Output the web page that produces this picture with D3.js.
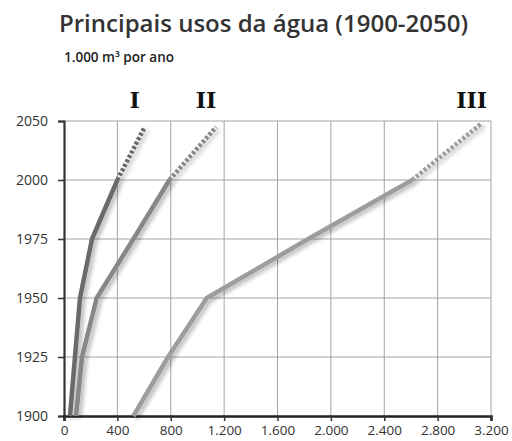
<!DOCTYPE html>
<html lang="pt">
<head>
<meta charset="UTF-8" />
<title>Principais usos da água (1900-2050)</title>
<script src="https://d3js.org/d3.v7.min.js"></script>
<style>
    body { margin: 0; background: #fff; }
    svg { display: block; font-family: "Open Sans", sans-serif; }
</style>
</head>
<body>
<div id="chart"></div>
<script>
    // values (1.000 m³ por ano)
    const years = [1900, 1925, 1950, 1975, 2000];
    const usoI = [45, 82, 120, 210, 400];
    const usoII = [90, 135, 245, 520, 790];
    const usoIII = [520, 780, 1070, 1830, 2610];
    // projections towards 2050 (dotted): [year, value] from 2000
    const projI = [[2000, 400], [2045, 605]];
    const projII = [[2000, 790], [2045, 1140]];
    const projIII = [[2000, 2610], [2048, 3130]];

    const seriesNames = ["I", "II", "III"];
    const xTicks = [0, 400, 800, 1200, 1600, 2000, 2400, 2800, 3200];
    const yTicks = [1900, 1925, 1950, 1975, 2000, 2050];

    const width = 512, height = 441;
    const margin = { left: 64, right: 21, top: 121, bottom: 25 };

    const svg = d3.select("#chart").append("svg")
        .attr("width", width)
        .attr("height", height);

    const defs = svg.append("defs");
    const f = defs.append("filter").attr("id", "shadow")
        .attr("x", "-20%").attr("y", "-20%").attr("width", "140%").attr("height", "140%");
    f.append("feGaussianBlur").attr("in", "SourceAlpha").attr("stdDeviation", 2.2).attr("result", "b");
    f.append("feOffset").attr("in", "b").attr("dx", 3).attr("dy", 2).attr("result", "o");
    f.append("feComponentTransfer").attr("in", "o").attr("result", "s")
        .append("feFuncA").attr("type", "linear").attr("slope", 0.3);
    const fm = f.append("feMerge");
    fm.append("feMergeNode").attr("in", "s");
    fm.append("feMergeNode").attr("in", "SourceGraphic");

    const x = d3.scaleLinear().domain([0, 3200]).range([margin.left, width - margin.right]);
    // the top band 2000-2050 is drawn as tall as a 25-year band
    const bottomY = height - margin.bottom;
    const step = (bottomY - margin.top) / 5;
    const y = d3.scaleLinear()
        .domain([1900, 2000, 2050])
        .range([bottomY, bottomY - 4 * step, margin.top]);

    const fmt = d3.formatLocale({ decimal: ",", thousands: ".", grouping: [3], currency: ["", ""] }).format(",");

    // title
    svg.append("text")
        .attr("x", 59).attr("y", 32)
        .attr("font-size", 24)
        .attr("font-weight", 600)
        .attr("fill", "#333")
        .text("Principais usos da água (1900-2050)");
    svg.append("text")
        .attr("x", 64).attr("y", 62)
        .attr("font-size", 13.5)
        .attr("font-weight", 600)
        .attr("fill", "#222")
        .text("1.000 m³ por ano");

    // grid
    const grid = svg.append("g").attr("stroke", "#a4a4a4").attr("stroke-width", 1);
    grid.selectAll(".v").data(xTicks.slice(1)).join("line")
        .attr("x1", d => x(d)).attr("x2", d => x(d))
        .attr("y1", y(1900)).attr("y2", y(2050));
    grid.selectAll(".h").data(yTicks.slice(1)).join("line")
        .attr("x1", x(0)).attr("x2", x(3200))
        .attr("y1", d => y(d)).attr("y2", d => y(d));

    // axes
    const yAxis = svg.append("g")
        .attr("transform", `translate(${margin.left},0)`)
        .call(d3.axisLeft(y).tickValues(yTicks).tickFormat(d3.format("d")).tickSize(6).tickPadding(10));
    yAxis.select(".domain").attr("stroke", "#333").attr("stroke-width", 2.2);
    yAxis.selectAll(".tick line").attr("stroke", "#333").attr("stroke-width", 1.5);
    yAxis.selectAll("text").attr("font-size", 14).attr("fill", "#333").attr("font-family", "Open Sans, sans-serif");

    const xAxis = svg.append("g")
        .attr("transform", `translate(0,${y(1900)})`)
        .call(d3.axisBottom(x).tickValues(xTicks).tickFormat(fmt).tickSize(5).tickPadding(4));
    xAxis.select(".domain").attr("stroke", "#222").attr("stroke-width", 2.6);
    xAxis.selectAll(".tick line").attr("stroke", "#333").attr("stroke-width", 1.5);
    xAxis.selectAll("text").attr("font-size", 13.5).attr("fill", "#333").attr("font-family", "Open Sans, sans-serif");

    // lines
    const line = d3.line().x(d => x(d[1])).y(d => y(d[0]));
    const series = [
        { name: seriesNames[0], vals: usoI, proj: projI, color: "#6b6b6b" },
        { name: seriesNames[1], vals: usoII, proj: projII, color: "#878787" },
        { name: seriesNames[2], vals: usoIII, proj: projIII, color: "#9d9d9d" }
    ];
    const lines = svg.append("g").attr("filter", "url(#shadow)");
    series.forEach(s => {
        lines.append("path")
            .attr("d", line(years.map((yr, i) => [yr, s.vals[i]])))
            .attr("fill", "none")
            .attr("stroke", s.color)
            .attr("stroke-width", 4.5)
            .attr("stroke-linejoin", "round");
        lines.append("path")
            .attr("d", line(s.proj))
            .attr("fill", "none")
            .attr("stroke", s.color)
            .attr("stroke-width", 4.5)
            .attr("stroke-dasharray", "3,2");
    });

    // series labels
    svg.selectAll(".lab").data(series).join("text")
        .attr("x", d => x(d.proj[1][1]) - 10)
        .attr("y", 108)
        .attr("text-anchor", "middle")
        .attr("font-family", "DejaVu Serif, serif")
        .attr("font-weight", "bold")
        .attr("font-size", 22)
        .attr("fill", "#111")
        .text(d => d.name);
</script>
</body>
</html>
